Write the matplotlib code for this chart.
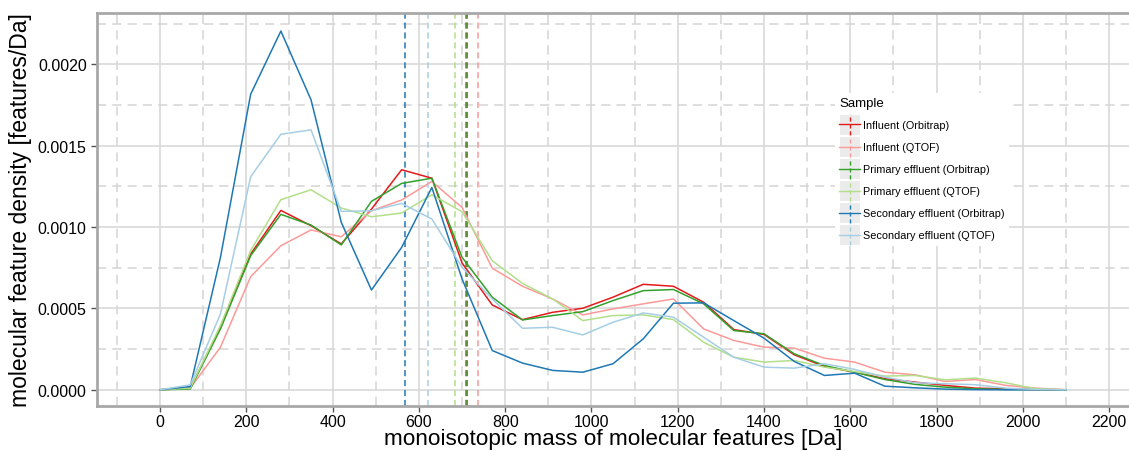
import matplotlib.pyplot as plt
import numpy as np
from matplotlib.legend_handler import HandlerBase
from matplotlib.lines import Line2D
from matplotlib.patches import Rectangle

plt.rcParams['font.family'] = ['Liberation Sans', 'DejaVu Sans']

# bin centres (Da)
mass = list(range(0, 2101, 70))

infl_orbi = [0, 0.00001, 0.000385, 0.000834, 0.001102, 0.001008, 0.000896, 0.00111, 0.001352, 0.0013,
             0.000779, 0.000521, 0.000431, 0.000476, 0.000501, 0.000569, 0.000648, 0.000636, 0.000538, 0.00037,
             0.00034, 0.000215, 0.000143, 0.000108, 0.000068, 0.000047, 0.000027, 0.00001, 0.000006, 0.000002, 0]
infl_qtof = [0, 0.00001, 0.000262, 0.000695, 0.000885, 0.000982, 0.00094, 0.0011, 0.001166, 0.00128,
             0.00112, 0.000747, 0.000636, 0.000558, 0.00046, 0.000497, 0.000528, 0.000558, 0.000374, 0.000303,
             0.000262, 0.000256, 0.000194, 0.00017, 0.000108, 0.000092, 0.000051, 0.000063, 0.000027, 0.00001, 0]
prim_orbi = [0, 0.000005, 0.000374, 0.000824, 0.001078, 0.001012, 0.00089, 0.001158, 0.001268, 0.0013,
             0.000814, 0.000569, 0.000429, 0.000456, 0.00048, 0.000548, 0.000609, 0.000616, 0.000528, 0.000364,
             0.000344, 0.000221, 0.000149, 0.000108, 0.000063, 0.000033, 0.000016, 0.000006, 0.000002, 0.000001, 0]
prim_qtof = [0, 0.00001, 0.000395, 0.000855, 0.001168, 0.001229, 0.001117, 0.001063, 0.001086, 0.001198,
             0.001094, 0.000793, 0.000654, 0.000558, 0.000425, 0.000456, 0.00046, 0.000431, 0.000292, 0.0002,
             0.00017, 0.00018, 0.000139, 0.000112, 0.000084, 0.000088, 0.000061, 0.000072, 0.000043, 0.000006, 0]
sec_orbi = [0, 0.00002, 0.000814, 0.001816, 0.002204, 0.001781, 0.001029, 0.000613, 0.000875, 0.001243,
            0.000681, 0.000241, 0.000164, 0.000119, 0.000108, 0.00016, 0.000313, 0.000532, 0.000534, 0.000425,
            0.000317, 0.000174, 0.000088, 0.000102, 0.000022, 0.000012, 0.000004, 0.000001, 0, 0, 0]
sec_qtof = [0, 0.00003, 0.000466, 0.001309, 0.00157, 0.001597, 0.001096, 0.0011, 0.001145, 0.001049,
            0.000753, 0.000558, 0.000378, 0.000384, 0.000337, 0.000415, 0.000472, 0.000446, 0.000323, 0.0002,
            0.000139, 0.000133, 0.00016, 0.000125, 0.000078, 0.000043, 0.000037, 0.000031, 0.00001, 0.000002, 0]

samples = ["Influent (Orbitrap)", "Influent (QTOF)", "Primary effluent (Orbitrap)",
           "Primary effluent (QTOF)", "Secondary effluent (Orbitrap)", "Secondary effluent (QTOF)"]
series = [infl_orbi, infl_qtof, prim_orbi, prim_qtof, sec_orbi, sec_qtof]
# mean mass per sample (dashed vertical lines)
means = [711, 738, 709, 683, 567, 620]
colors = ["#E31A1C", "#FB9A99", "#33A02C", "#B2DF8A", "#1F78B4", "#A6CEE3"]


class KeyHandler(HandlerBase):
    # ggplot-style key: grey box, horizontal line, dashed vertical line
    def create_artists(self, legend, orig, xd, yd, w, h, fontsize, trans):
        c = orig.get_color()
        bg = Rectangle((-xd, -yd - 2.5), w, h + 5, facecolor="#ebebeb", edgecolor="white",
                       lw=0.8, transform=trans)
        hl = Line2D([-xd, -xd + w], [-yd + h / 2] * 2, color=c, lw=1.0, transform=trans)
        vl = Line2D([-xd + w / 2] * 2, [-yd - 2.5, -yd + h + 2.5], color=c, lw=1.0,
                    linestyle=(0, (3, 2)), transform=trans)
        return [bg, hl, vl]


fig = plt.figure(figsize=(11.29, 4.52), dpi=100)
ax = fig.add_axes([0.086, 0.1, 0.914, 0.869])

for s, y, c in zip(samples, series, colors):
    ax.plot(mass, y, color=c, lw=1.1, label=s, zorder=3)
for m, c in zip(means, colors):
    ax.axvline(m, color=c, lw=1.1, linestyle=(0, (4, 2.5)), zorder=2)

ax.set_xlim(-146, 2246)
ax.set_ylim(-0.0000985, 0.002315)
ax.set_xticks(np.arange(0, 2201, 200))
ax.set_xticks(np.arange(-100, 2201, 200), minor=True)
ax.set_yticks(np.arange(0, 0.00201, 0.0005))
ax.set_yticks(np.arange(0.00025, 0.0023, 0.0005), minor=True)
ax.yaxis.set_major_formatter(plt.FuncFormatter(lambda v, p: f"{v:.4f}"))

ax.grid(True, which="major", color="#d9d9d9", lw=1.2, zorder=0)
ax.grid(True, which="minor", color="#d4d4d4", lw=1.1, linestyle=(0, (6, 4)), zorder=0)
ax.set_axisbelow(True)

for side in ["left", "top", "bottom"]:
    ax.spines[side].set_color("#a8a8a8")
    ax.spines[side].set_linewidth(2.0)
ax.spines["right"].set_visible(False)
ax.tick_params(which="major", length=4, width=1, color="#555555", labelsize=11.5, labelcolor="black")
ax.tick_params(which="minor", length=0)
ax.tick_params(axis="x", pad=2)

ax.set_xlabel("monoisotopic mass of molecular features [Da]", fontsize=16.2, labelpad=-0.5)
ax.set_ylabel("molecular feature density [features/Da]", fontsize=16.5, labelpad=4)

handles = [Line2D([], [], color=c) for c in colors]
leg = ax.legend(handles, samples, title="Sample", loc="upper left", bbox_to_anchor=(0.71, 0.81),
                handler_map={Line2D: KeyHandler()}, fontsize=7.8, title_fontsize=9.5,
                frameon=True, facecolor="white", edgecolor="none", framealpha=1,
                handlelength=1.9, handleheight=1.6, handletextpad=0.3, labelspacing=0.75,
                borderpad=0.4)
leg._legend_box.align = "left"

plt.savefig("out.png", dpi=100)
